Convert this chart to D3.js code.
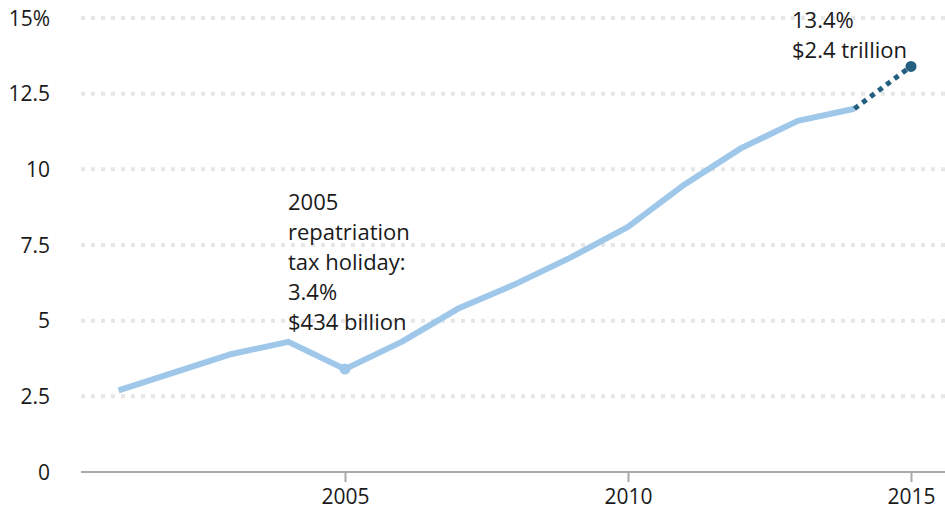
<!DOCTYPE html>
<html>
<head>
<meta charset="utf-8">
<script src="https://cdn.jsdelivr.net/npm/d3@7"></script>
<style>
	body { margin: 0; background: #fff; }
	svg text { font-family: "Open Sans", sans-serif; fill: #1a1a1a; }
	.grid line { stroke: #e6e6e6; stroke-width: 4; stroke-dasharray: 4,6; }
</style>
</head>
<body>
<div class="chart"></div>
<script>

// share of earnings held offshore (%)
const years = [2001, 2002, 2003, 2004, 2005, 2006, 2007, 2008, 2009, 2010, 2011, 2012, 2013, 2014, 2015];
const values = [2.7, 3.3, 3.9, 4.3, 3.4, 4.3, 5.4, 6.2, 7.1, 8.1, 9.5, 10.7, 11.6, 12.0, 13.4];
const yTicks = [0, 2.5, 5, 7.5, 10, 12.5, 15];
const xTicks = [2005, 2010, 2015];
const noteHoliday = ["2005", "repatriation", "tax holiday:", "3.4%", "$434 billion"];
const noteLatest = ["13.4%", "$2.4 trillion"];

const width = 945;
const height = 510;

const x = d3.scaleLinear().domain([2005, 2015]).range([345, 911]);
const y = d3.scaleLinear().domain([0, 15]).range([472, 18]);

const data = years.map((yr, i) => ({ year: yr, value: values[i] }));
const solid = data.filter((d) => d.year <= 2014);
const projected = data.filter((d) => d.year >= 2014);

const svg = d3.select(".chart")
	.append("svg")
		.attr("width", width)
		.attr("height", height);

// gridlines
svg.append("g")
	.attr("class", "grid")
	.selectAll("line")
		.data(yTicks.filter((t) => t > 0)).enter()
	.append("line")
		.attr("x1", 81)
		.attr("x2", width)
		.attr("y1", (d) => y(d))
		.attr("y2", (d) => y(d));

// y labels
svg.append("g")
	.selectAll("text")
		.data(yTicks).enter()
	.append("text")
		.attr("x", 50)
		.attr("y", (d) => y(d))
		.attr("dy", "0.36em")
		.attr("text-anchor", "end")
		.style("font-size", "21px")
		.text((d) => d === 15 ? "15%" : d);

// x axis
const xAxis = d3.axisBottom(x)
	.tickValues(xTicks)
	.tickFormat(d3.format("d"))
	.tickSize(10)
	.tickPadding(7);

const gx = svg.append("g")
	.attr("transform", `translate(0, ${y(0)})`)
	.call(xAxis);

gx.select(".domain").remove();
gx.selectAll(".tick line").attr("stroke", "#aaa").attr("stroke-width", 2);
gx.selectAll(".tick text").style("font-size", "21px");

gx.append("line")
	.attr("x1", 81)
	.attr("x2", width)
	.attr("stroke", "#aaa")
	.attr("stroke-width", 2);

// lines
const line = d3.line()
	.x((d) => x(d.year))
	.y((d) => y(d.value));

svg.append("path")
	.datum(solid)
	.attr("fill", "none")
	.attr("stroke", "#9fc7ea")
	.attr("stroke-width", 6)
	.attr("stroke-linejoin", "round")
	.attr("d", line);

svg.append("path")
	.datum(projected)
	.attr("fill", "none")
	.attr("stroke", "#245f80")
	.attr("stroke-width", 5)
	.attr("stroke-dasharray", "5,5")
	.attr("d", line);

// highlighted points
const d2005 = data.find((d) => d.year === 2005);
const d2015 = data.find((d) => d.year === 2015);

svg.append("circle")
	.attr("cx", x(d2005.year))
	.attr("cy", y(d2005.value))
	.attr("r", 5.5)
	.attr("fill", "#9fc7ea");

svg.append("circle")
	.attr("cx", x(d2015.year))
	.attr("cy", y(d2015.value))
	.attr("r", 5.5)
	.attr("fill", "#245f80");

// annotations
svg.append("text")
	.attr("x", 288)
	.attr("y", 210)
	.style("font-size", "22px")
	.selectAll("tspan")
		.data(noteHoliday).enter()
	.append("tspan")
		.attr("x", 288)
		.attr("dy", (d, i) => i === 0 ? 0 : 30)
		.text((d) => d);

svg.append("text")
	.attr("x", 792)
	.attr("y", 28)
	.style("font-size", "22px")
	.selectAll("tspan")
		.data(noteLatest).enter()
	.append("tspan")
		.attr("x", 792)
		.attr("dy", (d, i) => i === 0 ? 0 : 30)
		.text((d) => d);

</script>
</body>
</html>
